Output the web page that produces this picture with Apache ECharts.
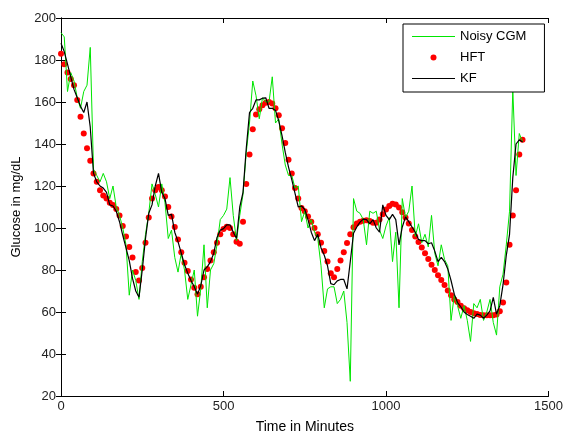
<!DOCTYPE html>
<html>
<head>
<meta charset="utf-8">
<script src="https://cdn.jsdelivr.net/npm/echarts@6/dist/echarts.min.js"></script>
<style>
  html, body { margin: 0; padding: 0; background: #fff; }
  #chart { width: 566px; height: 439px; }
</style>
</head>
<body>
<div id="chart"></div>
<script>
  // samples every 10 minutes, 0 .. 1420
  const cgm = [
    193, 191, 165, 174, 170, 162, 157, 165, 168, 186,
    128, 125, 122, 126, 122, 114, 120, 110, 106, 100,
    92, 68, 80, 75, 66, 84, 97, 107, 121, 116,
    110, 121, 112, 95, 99, 86, 79, 88, 80, 66,
    73, 80, 58, 71, 92, 62, 80, 83, 92, 104,
    106, 109, 124, 106, 94, 106, 116, 136, 150, 170,
    163, 152, 162, 160, 160, 172, 150, 152, 140, 130,
    125, 125, 119, 120, 103, 108, 100, 104, 98, 95,
    82, 62, 71, 72, 72, 64, 66, 70, 55, 27,
    114, 108, 107, 104, 92, 108, 107, 108, 99, 95,
    101, 105, 84, 98, 62, 114, 105, 108, 120, 96,
    102, 93, 97, 91, 106, 88, 82, 92, 85, 82,
    56, 68, 63, 57, 63, 56, 46, 64, 62, 66,
    56, 60, 66, 55, 49, 72, 78, 92, 108, 166,
    125, 145, 141
  ]
  const hft = [
    183, 178, 174, 171, 168, 161, 153, 145, 138, 132,
    126, 122, 118, 115.5, 114, 112, 111, 109, 106, 101,
    96, 91, 86, 79, 75, 81, 93, 105, 114, 118,
    119.5, 118, 115, 110, 105.5, 100.5, 94.5, 88.5, 83.5, 79.5,
    75.5, 71.5, 68.5, 72, 76.5, 80.5, 84.5, 88.5, 93, 97,
    99.5, 100.6, 100, 97, 93.5, 92.5, 103, 121, 135, 147,
    154, 156.5, 158.5, 159.7, 160, 159.3, 157, 153.7, 147.5, 140.5,
    132.5, 126, 119, 114, 109.5, 108, 105.5, 103, 100, 97,
    93, 89, 84, 78.5, 76.5, 80.5, 84.5, 88.5, 92.8, 97,
    100.3, 102.2, 103, 103.5, 103.7, 103.3, 102.5, 102.5, 104, 106.5,
    108.8, 110.5, 111.5, 111.2, 109.8, 107.5, 105, 102.2, 99, 96,
    93.3, 90.7, 88, 85.2, 82.5, 80, 77.5, 75.2, 72.8, 70.2,
    68, 66, 64.8, 63, 61.8, 60.8, 60, 59.4, 59, 58.6,
    58.4, 58.4, 58.4, 58.4, 58.8, 60.4, 64.5, 74, 92, 106,
    118, 135, 142
  ]
  const kf = [
    188, 184, 178, 172, 166, 162, 158, 155, 160, 148,
    126, 122, 120, 119, 117, 111, 110.5, 108, 103, 96.5,
    90.5, 84.5, 76, 70, 67, 80, 95, 107, 111, 120,
    126, 117, 114, 106, 106.5, 98, 93.5, 88, 82.5, 78.5,
    75, 72, 68.5, 72.5, 80, 81.5, 84, 88, 95.5, 99,
    99.7, 101.5, 101.5, 98, 95, 110, 117, 138, 155, 157,
    161, 161, 161.8, 162, 157, 157, 156, 151, 144, 136,
    129, 123, 116.5, 110, 110.5, 108.8, 104, 98, 94, 97,
    90.5, 87, 82, 73.5, 73, 74.8, 75.5, 75.5, 71, 84,
    97.5, 100.5, 102.8, 104.2, 104, 102, 104, 100, 98, 111,
    106, 104, 106.5, 104, 92, 100.5, 105.3, 103, 100.5, 98,
    94.5, 94, 94, 92.5, 93, 89, 84, 86, 84, 80.5,
    75, 68.5, 64.5, 62.5, 60, 58.8, 58, 57, 59, 58.5,
    57, 58.5, 60.5, 67, 59, 63, 73, 87, 97, 124,
    140, 142, 141
  ]
  const times = cgm.map((v, i) => i * 10)
  const seriesNames = ['Noisy CGM', 'HFT', 'KF']

  const pairs = arr => arr.map((v, i) => [times[i], v])

  const myChart = echarts.init(document.getElementById('chart'))
  const font = 'Liberation Sans, Arial, sans-serif'
  const lineIcon = 'path://M0,0 L43,0 L43,1 L0,1 Z' // 图例里的细线
  const option = {
    animation: false,
    backgroundColor: '#fff',
    grid: { left: 61, right: 17, top: 18, bottom: 37 },
    legend: {
      data: [
        { name: seriesNames[0], icon: lineIcon },
        { name: seriesNames[1], icon: 'circle' },
        { name: seriesNames[2], icon: lineIcon },
      ],
      orient: 'vertical',
      left: 403,
      top: 24,
      itemWidth: 43,
      itemHeight: 6,
      itemGap: 8,
      symbolKeepAspect: true,
      padding: [6, 18, 7, 9],
      backgroundColor: '#fff',
      borderColor: '#000',
      borderWidth: 1,
      textStyle: { color: '#000', fontSize: 13, fontFamily: font },
    },
    xAxis: [
      {
        type: 'value',
        min: 0,
        max: 1500,
        interval: 500,
        name: 'Time in Minutes',
        nameLocation: 'middle',
        nameGap: 24,
        nameTextStyle: { color: '#000', fontSize: 14, fontFamily: font },
        axisLine: { lineStyle: { color: '#000', width: 1 } },
        axisTick: { inside: true, length: 5, lineStyle: { color: '#000' } },
        axisLabel: { color: '#222', fontSize: 13, fontFamily: font, margin: 4, formatter: v => String(v) },
        splitLine: { show: false },
      },
      {
        type: 'value',
        position: 'top',
        min: 0,
        max: 1500,
        interval: 500,
        axisLine: { lineStyle: { color: '#000', width: 1 } },
        axisTick: { inside: true, length: 5, lineStyle: { color: '#000' } },
        axisLabel: { show: false },
        splitLine: { show: false },
      },
    ],
    yAxis: [
      {
        type: 'value',
        min: 20,
        max: 200,
        interval: 20,
        name: 'Glucose in mg/dL',
        nameLocation: 'middle',
        nameGap: 38,
        nameTextStyle: { color: '#000', fontSize: 13, fontFamily: font },
        axisLine: { show: true, lineStyle: { color: '#000', width: 1 } },
        axisTick: { show: true, inside: true, length: 5, lineStyle: { color: '#000' } },
        axisLabel: { color: '#222', fontSize: 13, fontFamily: font, margin: 5 },
        splitLine: { show: false },
      },
      {
        type: 'value',
        position: 'right',
        min: 20,
        max: 200,
        interval: 20,
        axisLine: { show: true, lineStyle: { color: '#000', width: 1 } },
        axisTick: { show: true, inside: true, length: 5, lineStyle: { color: '#000' } },
        axisLabel: { show: false },
        splitLine: { show: false },
      },
    ],
    series: [
      {
        name: 'Noisy CGM',
        type: 'line',
        symbol: 'none',
        color: '#00e600',
        lineStyle: { width: 1, color: '#00e600' },
        data: pairs(cgm),
      },
      {
        name: 'HFT',
        type: 'scatter',
        symbol: 'circle',
        symbolSize: 6,
        itemStyle: { color: '#ff0000', opacity: 1 },
        data: pairs(hft),
      },
      {
        name: 'KF',
        type: 'line',
        symbol: 'none',
        color: '#000',
        lineStyle: { width: 1.2, color: '#000' },
        data: pairs(kf),
      },
    ],
  }
  option && myChart.setOption(option)
</script>
</body>
</html>
